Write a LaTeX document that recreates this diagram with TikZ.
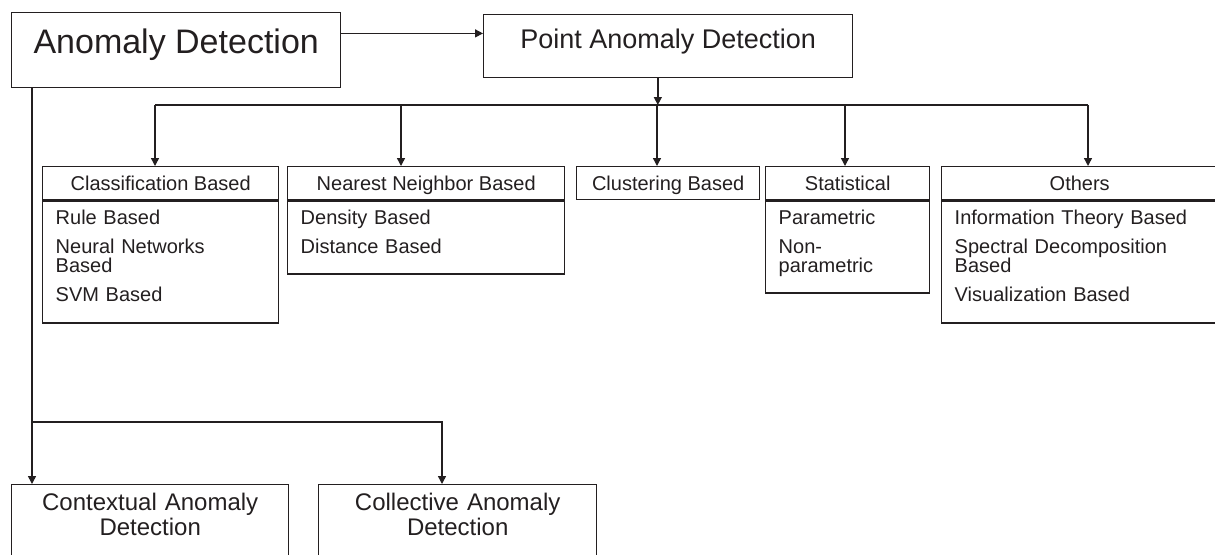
\documentclass[tikz,border=0pt]{standalone}
\usepackage{fontspec}
\setmainfont{Liberation Sans}
\usepackage{tikz}
\usetikzlibrary{calc}
\usetikzlibrary{positioning}
\usetikzlibrary{arrows.meta}

\definecolor{ink}{RGB}{35,31,32}

\tikzset{
	box/.style={draw=ink, text=ink, line width=0.7pt, inner sep=0pt},
	head/.style={box, anchor=north west, minimum height=16.5pt, text height=7.2pt, text depth=0pt, font=\fontsize{10}{9.6}\selectfont},
	list/.style={box, inner xsep=6.5pt, text height=11.5pt, align=left, font=\fontsize{10}{9.6}\selectfont},
	wire/.style={draw=ink, line width=0.7pt},
	link/.style={wire, -{Triangle[length=4pt,width=4pt]}}
}

\begin{document}
\begin{tikzpicture}[x=0.5pt, y=-0.5pt]
			\useasboundingbox (0,0) rectangle (1215,554);
			\clip (0,0) rectangle (1215,554);

			\node[box, anchor=north west, minimum width=164.5pt, text height=20.5pt, text depth=17pt, font=\fontsize{17}{20}\selectfont] (ad) at (11,12) {Anomaly Detection};
			\node[box, anchor=north west, minimum width=184.5pt, text height=17pt, text depth=14.5pt, font=\fontsize{13.5}{16}\selectfont] (pt) at (483,14) {Point Anomaly Detection};

			\node[head, minimum width=118pt] (chead) at (42,166) {Classification Based};
			\node[head, minimum width=138.5pt] (nhead) at (287,166) {Nearest Neighbor Based};
			\node[head, minimum width=91.5pt] (khead) at (576,166) {Clustering Based};
			\node[head, minimum width=82pt] (shead) at (765,166) {Statistical};
			\node[head, minimum width=138pt] (ohead) at (941,166) {Others};

			\node[list, below=0pt of chead, text width=105pt, text depth=49.5pt] (cbody) {Rule Based\\[5pt]Neural Networks\\Based\\[5pt]SVM Based};
			\node[list, below=0pt of nhead, text width=125.5pt, text depth=25pt] (nbody) {Density Based\\[5pt]Distance Based};
			\node[list, below=0pt of shead, text width=69pt, text depth=34.5pt] (sbody) {Parametric\\[5pt]Non-\\parametric};
			\node[list, below=0pt of ohead, text width=125pt, text depth=49.5pt] (obody) {Information Theory Based\\[5pt]Spectral Decomposition\\Based\\[5pt]Visualization Based};

			\node[box, anchor=north west, text width=138.5pt, align=center, text height=13pt, text depth=40pt, font=\fontsize{12}{10.5}\selectfont] (ctx) at (11,484) {Contextual Anomaly\\Detection};
			\node[box, anchor=north west, text width=139pt, align=center, text height=13pt, text depth=40pt, font=\fontsize{12}{10.5}\selectfont] (col) at (318,484) {Collective Anomaly\\Detection};

			\coordinate (adout) at ($(ad.north east)!.28!(ad.south east)$);
			\draw[link] (adout) -- (adout -| pt.west);

			\coordinate (ptout) at ($(pt.south west)!.472!(pt.south east)$);
			\draw[link] (ptout) -- (ptout |- 0,105);
			\draw[wire] (155,105) -- (1088,105);
			\foreach \x/\n in {155/chead, 401/nhead, 657/khead, 845/shead, 1088/ohead}
				\draw[link] (\x,105) -- (\x,0 |- \n.north);

			\coordinate (adleft) at (32,0 |- ad.south);
			\draw[link] (adleft) -- (adleft |- ctx.north);
			\draw[link] (adleft |- 0,422) -| (442,0 |- col.north);
		\end{tikzpicture}
\end{document}
